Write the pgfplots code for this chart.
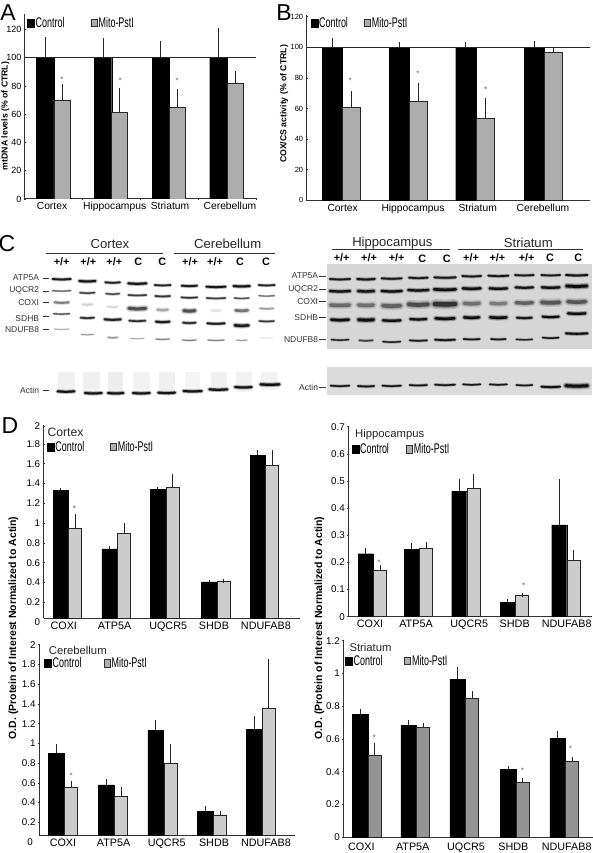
\documentclass[border=0pt]{standalone}
\usepackage{fontspec}
\setmainfont{Liberation Sans}
\usepackage{pgfplots}
\pgfplotsset{compat=1.18}
\def\xoff{0}
\def\bandparse#1/#2/#3/#4/#5\relax{%
  \pgfmathsetmacro\xa{\xoff+(#1-#3)/3}\pgfmathsetmacro\xb{\xoff+#1/3}\pgfmathsetmacro\xc{\xoff+(#1+#3)/3}%
  \pgfmathsetmacro\ya{205+#2/3}\pgfmathsetmacro\yb{205+#2/3+0.5}%
  \pgfmathsetmacro\lo{#4*2.2}\pgfmathsetmacro\lm{#4*1.5}%
  \pgfmathsetmacro\oo{#5*0.22}\pgfmathsetmacro\om{#5*0.35}\pgfmathsetmacro\oc{#5*0.9}%
  \edef\temp{\noexpand\addplot[no marks,smooth,line cap=round,black,line width=\lo pt,opacity=\oo] coordinates {(\xa,\ya)(\xb,\yb)(\xc,\ya)};
  \noexpand\addplot[no marks,smooth,line cap=round,black,line width=\lm pt,opacity=\om] coordinates {(\xa,\ya)(\xb,\yb)(\xc,\ya)};
  \noexpand\addplot[no marks,smooth,line cap=round,black,line width=#4 pt,opacity=\oc] coordinates {(\xa,\ya)(\xb,\yb)(\xc,\ya)};}%
  \temp}
\newcommand\bands[1]{\pgfplotsforeachungrouped \bb in {#1}{\expandafter\bandparse\bb\relax}}
\newcommand\rectp[5]{\addplot[fill=#5,draw=none,no marks] coordinates {(#1,#2)(#3,#2)(#3,#4)(#1,#4)} --cycle;}
\newcommand\hlin[3]{\addplot[no marks,line width=1pt,black!80] coordinates {(#1,#3)(#2,#3)};}
\newcommand\txt[4][center]{\node[anchor=#1,inner sep=0pt,font=#2] at (axis cs:#3) {#4};}
\newcommand\leg[1]{\scalebox{.64}[1]{\fontsize{14}{14}\selectfont #1}}
\pgfplotsset{
  panel/.style={scale only axis,axis x line=bottom,axis y line=left,
    axis line style={-,line width=1pt,black!80},
    tick style={black!80,line width=.6pt},major tick length=2pt,
    xtick style={draw=none},
    /pgf/number format/assume math mode=true,
    clip mode=individual,
    legend cell align=left},
  ebar/.style={/pgfplots/error bars/.cd,y dir=plus,y explicit,error mark=-,
    error bar style={line width=1pt,black!85},
    error mark options={rotate=0,black!85,mark size=1.8pt,line width=1pt},/pgfplots/.cd},
  ctl/.style={ybar,bar shift=0pt,draw=black,fill=black,bar width=#1,ebar,
    legend image code/.code={\fill[black] (0pt,-4pt) rectangle (7pt,4pt);}},
  mut/.style={ybar,bar shift=0pt,draw=black!85,line width=.9pt,bar width=#1,ebar,
    legend image code/.code={\draw[black!80,fill=black!32,line width=.8pt] (.4pt,-3.6pt) rectangle (6.6pt,3.6pt);}},
  legat/.style n args={3}{legend style={at={(axis cs:#1,#2)},anchor=west,draw=none,fill=none,inner sep=0pt,outer sep=0pt,
    legend columns=2,/tikz/every even column/.append style={column sep=#3pt},
    nodes={inner xsep=1pt,inner ysep=0pt}}},
}
\newcommand\astk[2]{\node[text=black!60,font=\fontsize{8}{8}\selectfont,inner sep=0pt] at (axis cs:#1,#2) {*};}
\begin{document}
\begin{tikzpicture}
\useasboundingbox (0,0) rectangle (593pt,853pt);
% ---------- overlay: panel letters, blots, shared labels
\begin{axis}[at={(0pt,0pt)},anchor=south west,scale only axis,width=593pt,height=853pt,
  xmin=0,xmax=593,ymin=0,ymax=853,y dir=reverse,hide axis,clip=false]
\rectp{327.3}{264.3}{591.7}{349}{black!16}
\rectp{327.3}{367.3}{591.7}{395}{black!14}
\rectp{58}{372}{75}{392}{black!6}\rectp{83}{372}{100}{392}{black!6}\rectp{108}{372}{123}{392}{black!7}\rectp{133}{372}{150}{392}{black!5}\rectp{159}{372}{175}{392}{black!6}
\rectp{185}{372}{200}{392}{black!4}\rectp{211}{372}{227}{392}{black!6}\rectp{236}{372}{252}{392}{black!5}\rectp{261}{372}{278}{390}{black!5}
\def\xoff{0}
\bands{185/222/27/1.8/.9,262/228/24/2/.95,338/232/22/1.7/.85,412/235/27/2/.95,488/240/24/1.6/.85,568/242/23/1.8/.9,648/245/29/1.8/.95,725/243/24/2/.95,800/240/24/1.6/.85}
\bands{185/257/27/1.2/.5,262/263/22/1.5/.65,338/266/20/1.5/.6,412/270/27/1.5/.7,488/273/22/1.6/.75,568/277/24/1.5/.75,648/279/28/1.5/.7,725/279/22/1.3/.6,800/272/23/1.1/.5}
\bands{185/292/21/2/.4,262/298/14/2/.12,338/305/14/2/.1,412/310/25/3/.6,488/314/15/2.4/.25,568/317/16/3/.6,648/316/14/2/.08,725/316/18/2.6/.45,800/310/20/1.5/.3}
\bands{185/326/24/1.3/.55,262/338/20/1.7/.75,338/343/24/2/.85,412/347/24/1.7/.75,488/350/20/2/.9,568/353/19/1.8/.75,648/355/26/1.8/.9,725/361/20/2.5/.9,800/348/22/1.5/.7}
\bands{185/372/22/.9/.25,262/388/18/1/.3,338/397/14/1.5/.3,412/400/20/.9/.25,488/402/20/1.1/.4,568/405/20/1.1/.4,648/405/24/1.1/.4,725/405/16/1/.3,800/398/18/.7/.1}
\bands{198/559/25/2/.95,280/564/25/2/.95,347/564/23/2/.95,424/564/25/2/.95,500/563/25/2/.95,578/558/27/2/.95,655/553/27/2/.95,730/546/25/2/.95,810/538/28/2.2/.98}
\def\xoff{290}
\bands{150/222/30/1.7/.9,228/222/26/1.9/.9,305/220/30/1.7/.9,385/218/28/1.7/.9,465/217/32/1.8/.9,545/213/28/1.7/.9,625/212/30/1.7/.9,703/210/28/1.6/.9,782/210/28/1.6/.9,860/210/32/1.8/.95}
\bands{150/258/30/2.2/.95,228/258/24/2.4/.9,305/258/30/2.2/.95,385/255/30/2.2/.95,465/253/32/2.6/.95,545/250/26/2.4/.95,625/250/26/2.2/.95,703/247/26/2/.95,782/247/26/2.2/.95,860/243/30/2.8/.98}
\bands{150/300/28/3.5/.4,228/300/22/3.5/.38,305/302/26/3.8/.45,385/298/28/4/.55,465/297/30/4.5/.7,545/295/22/3.5/.38,625/295/22/3.3/.32,703/293/24/3.3/.45,782/292/26/3.8/.5,860/290/26/3.5/.5}
\bands{150/344/26/2.4/.98,228/344/22/2.8/.98,305/346/26/2.2/.95,385/342/24/2.1/.95,465/340/28/2.5/.98,545/337/22/2.4/.98,625/337/24/2.5/.98,703/338/22/1.9/.9,782/335/24/2/.98,860/325/26/2.2/.98}
\bands{150/404/26/1.3/.8,228/406/20/1.5/.6,305/410/26/1.4/.8,385/406/26/1.5/.85,465/404/30/1.7/.9,545/402/24/1.5/.9,625/402/22/1.5/.9,703/403/24/1.3/.8,782/398/24/1.4/.9,860/385/32/1.9/.98}
\bands{150/542/28/1.5/.9,228/543/24/1.6/.9,305/542/28/1.5/.9,385/540/26/1.5/.9,465/539/30/1.5/.9,545/538/26/1.4/.9,625/538/26/1.4/.9,703/540/24/1.4/.9,782/545/28/1.8/.95,860/542/32/3/.95}
% letters
\def\bigf{\fontsize{23}{23}\selectfont}
\txt{\bigf}{8,13}{A}\txt{\bigf}{284,13}{B}\txt{\bigf}{7,244}{C}\txt{\bigf}{10,426}{D}
% blot headings
\def\hd{\fontsize{13.1}{14}\selectfont\color{black!85}}
\txt{\hd}{110,244.3}{Cortex}\txt{\hd}{227.7,244.3}{Cerebellum}
\txt{\hd}{392.3,242.7}{Hippocampus}\txt{\hd}{528.3,242.7}{Striatum}
\hlin{45.7}{163.3}{253.3}\hlin{174.3}{275}{253.3}\hlin{331.7}{450}{249.3}\hlin{458.3}{582.7}{249.3}
\def\lnf{\fontsize{10.8}{11}\selectfont\bfseries}
\txt{\lnf}{61.7,261.7}{+/+}\txt{\lnf}{88.3,261.7}{+/+}\txt{\lnf}{114.3,261.7}{+/+}\txt{\lnf}{138.3,262}{C}\txt{\lnf}{162.3,262}{C}
\txt{\lnf}{190,261.7}{+/+}\txt{\lnf}{215,261.7}{+/+}\txt{\lnf}{240,262}{C}\txt{\lnf}{266,262}{C}
\txt{\lnf}{341.7,257.7}{+/+}\txt{\lnf}{369,257.7}{+/+}\txt{\lnf}{396.7,257.7}{+/+}\txt{\lnf}{422.3,259}{C}\txt{\lnf}{446.7,259}{C}
\txt{\lnf}{471,257.7}{+/+}\txt{\lnf}{497.3,257.7}{+/+}\txt{\lnf}{526.7,257.7}{+/+}\txt{\lnf}{550,258}{C}\txt{\lnf}{578.3,258}{C}
\def\rl{\fontsize{8.5}{9}\selectfont\color{black!80}}
\txt[east]{\rl}{39.3,277.3}{ATP5A}\txt[east]{\rl}{39.3,290.7}{UQCR2}\txt[east]{\rl}{39.3,302.7}{COXI}\txt[east]{\rl}{39.3,318.3}{SDHB}\txt[east]{\rl}{39.3,330}{NDUFB8}\txt[east]{\rl}{39.3,390}{Actin}
\hlin{43.3}{49}{278}\hlin{43.3}{49}{291}\hlin{43.3}{49}{302.3}\hlin{43.3}{49}{316.3}\hlin{43.3}{49}{329}\hlin{43.3}{49}{390.7}
\txt[east]{\rl}{318.3,275.7}{ATP5A}\txt[east]{\rl}{318.3,289}{UQCR2}\txt[east]{\rl}{318.3,301.7}{COXI}\txt[east]{\rl}{318.3,317.7}{SDHB}\txt[east]{\rl}{318.3,339.7}{NDUFB8}\txt[east]{\rl}{318.3,387.3}{Actin}
\hlin{319.3}{325.7}{276}\hlin{319.3}{325.7}{289}\hlin{319.3}{325.7}{301.7}\hlin{319.3}{325.7}{317.7}\hlin{319.3}{325.7}{339.7}\hlin{319.3}{325.7}{387.3}
% y labels
\node[rotate=90,inner sep=0pt,font=\fontsize{8.7}{9}\selectfont\bfseries] at (axis cs:5.3,116) {mtDNA levels (\% of CTRL)};
\node[rotate=90,inner sep=0pt,font=\fontsize{8.7}{9}\selectfont\bfseries] at (axis cs:284,104) {COX/CS activity (\% of CTRL)};
\node[rotate=90,inner sep=0pt,font=\fontsize{10.5}{11}\selectfont\bfseries] at (axis cs:13.3,628) {O.D. (Protein of Interest Normalized to Actin)};
\node[rotate=90,inner sep=0pt,font=\fontsize{10.5}{11}\selectfont\bfseries] at (axis cs:319.3,628) {O.D. (Protein of Interest Normalized to Actin)};
% panel titles
\def\ptf{\fontsize{11.3}{12}\selectfont\color{black!85}}
\txt[west]{\fontsize{12.2}{13}\selectfont\color{black!85}}{47.3,432.7}{Cortex}
\txt[west]{\ptf}{355,435}{Hippocampus}\txt[west]{\ptf}{48.7,650.3}{Cerebellum}\txt[west]{\ptf}{349.3,647.7}{Striatum}
\end{axis}
% ---------- A
\begin{axis}[panel,at={(25pt,654pt)},anchor=south west,width=231pt,height=185pt,
  xmin=25,xmax=256,ymin=0,ymax=130.9,ytick={0,20,...,120},
  xtick={52,114.7,170,230},xticklabels={Cortex,Hippocampus,Striatum,Cerebellum},
  extra x ticks={25,82.3,140,198,256},extra x tick labels={},extra x tick style={xtick style={draw=black!80}},
  x tick label style={font=\fontsize{10.3}{11}\selectfont,yshift=1pt},
  y tick label style={font=\fontsize{9}{10}\selectfont,xshift=1pt},
  legat={27.3}{124.5}{25}]
\addplot[ctl=17.3pt] coordinates {(45.35,100) +- (0,13.2) (103.05,100) +- (0,12.5) (160.65,100) +- (0,10.4) (218.35,100) +- (0,19.6)};
\addlegendentry{\leg{Control}}
\addplot[mut=16pt,fill=black!32] coordinates {(62,70) +- (0,10.4) (119.7,61.1) +- (0,16.5) (177.3,64.6) +- (0,12.1) (235,81.6) +- (0,7.4)};
\addlegendentry{\leg{Mito-PstI}}
\addplot[forget plot,sharp plot,no marks,line width=1pt,black!85] coordinates {(25,100)(256,100)};
\astk{62}{84.5}\astk{120.3}{84}\astk{177.3}{84}
\end{axis}
% ---------- B
\begin{axis}[panel,at={(306.7pt,652.7pt)},anchor=south west,width=283.3pt,height=185.3pt,
  xmin=306.7,xmax=590,ymin=0,ymax=121.1,ytick={0,20,...,120},
  xtick={342.7,413,477.7,543},xticklabels={Cortex,Hippocampus,Striatum,Cerebellum},
  x tick label style={font=\fontsize{10.3}{11}\selectfont,yshift=1pt},
  y tick label style={font=\fontsize{7.5}{8}\selectfont,xshift=1pt},
  legat={310.7}{116}{15}]
\addplot[ctl=20.3pt] coordinates {(332.15,100) +- (0,4.8) (399.15,100) +- (0,2.2) (465.85,100) +- (0,2.2) (534.15,100) +- (0,2.6)};
\addlegendentry{\leg{Control}}
\addplot[mut=18pt,fill=black!32] coordinates {(351.5,60.8) +- (0,9.2) (418.5,64.5) +- (0,11.1) (485.2,53.2) +- (0,12.2) (553.5,96.7) +- (0,2.2)};
\addlegendentry{\leg{Mito-PstI}}
\addplot[forget plot,sharp plot,no marks,line width=1pt,black!85] coordinates {(306.7,100)(590,100)};
\astk{350.3}{78}\astk{418}{83}\astk{485.7}{72}
\end{axis}
% ---------- Cortex
\begin{axis}[panel,at={(43.7pt,234.7pt)},anchor=south west,width=256.3pt,height=193.3pt,
  xmin=43.7,xmax=299,ymin=.04,ymax=1.99,ytick={.2,.4,...,1.8},extra y ticks={1.98},extra y tick labels={2},
  yticklabels={0.2,0.4,0.6,0.8,1,1.2,1.4,1.6,1.8},
  xtick={63.7,114.3,167.7,213.3,265},xticklabels={COXI,ATP5A,UQCR5,SHDB,NDUFAB8},
  x tick label style={font=\fontsize{10.8}{11}\selectfont,yshift=1pt},
  y tick label style={font=\fontsize{9.8}{10}\selectfont,xshift=1pt},
  legat={47}{1.765}{24.5}]
\addplot[ctl=15pt] coordinates {(60.8,1.328) +- (0,.012) (109.2,.74) +- (0,.013) (157.5,1.338) +- (0,.01) (208.5,.407) +- (0,.006) (256.8,1.687) +- (0,.031)};
\addlegendentry{\leg{Control}}
\addplot[mut=13pt,fill=black!20] coordinates {(75.3,.951) +- (0,.121) (123.7,.897) +- (0,.091) (172,1.355) +- (0,.127) (223,.41) +- (0,.007) (271.3,1.583) +- (0,.135)};
\addlegendentry{\leg{Mito-PstI}}
\astk{74.3}{1.15}
\node[anchor=east,inner sep=0pt,font=\fontsize{9.8}{10}\selectfont,text=black] at (rel axis cs:0,0) [xshift=-3.5pt,yshift=-4pt] {0};
\end{axis}
% ---------- Hippocampus
\begin{axis}[panel,at={(348.3pt,236.3pt)},anchor=south west,width=243.7pt,height=190pt,
  xmin=348.3,xmax=592,ymin=0,ymax=.7,ytick={0,.1,...,.7},
  yticklabels={0,0.1,0.2,0.3,0.4,0.5,0.6,0.7},
  xtick={370,416,469.3,514.7,566.7},xticklabels={COXI,ATP5A,UQCR5,SHDB,NDUFAB8},
  x tick label style={font=\fontsize{10.8}{11}\selectfont,yshift=1pt},
  y tick label style={font=\fontsize{9.8}{10}\selectfont,xshift=1pt},
  legat={351.7}{.616}{16}]
\addplot[ctl=15pt] coordinates {(365.5,.232) +- (0,.014) (411.8,.248) +- (0,.017) (459.2,.462) +- (0,.04) (507.5,.054) +- (0,.005) (559.2,.338) +- (0,.163)};
\addlegendentry{\leg{Control}}
\addplot[mut=13pt,fill=black!20] coordinates {(380,.17) +- (0,.012) (426.3,.253) +- (0,.015) (473.7,.473) +- (0,.045) (522,.077) +- (0,.004) (573.7,.206) +- (0,.034)};
\addlegendentry{\leg{Mito-PstI}}
\astk{379}{.2}\astk{523.7}{.115}
\end{axis}
% ---------- Cerebellum
\begin{axis}[panel,at={(39pt,17.3pt)},anchor=south west,width=256pt,height=192pt,
  xmin=39,xmax=295,ymin=.064,ymax=2.01,ytick={.2,.4,...,1.8},extra y ticks={2},extra y tick labels={2},
  yticklabels={0.2,0.4,0.6,0.8,1,1.2,1.4,1.6,1.8},
  xtick={63,113.7,166.7,214,266},xticklabels={COXI,ATP5A,UQCR5,SHDB,NDUFAB8},
  x tick label style={font=\fontsize{10.8}{11}\selectfont,yshift=1pt},
  y tick label style={font=\fontsize{9.8}{10}\selectfont,xshift=1pt},
  legat={44.3}{1.81}{21}]
\addplot[ctl=15.5pt] coordinates {(56.3,.899) +- (0,.081) (106.3,.579) +- (0,.041) (155.6,1.131) +- (0,.091) (205.3,.31) +- (0,.037) (254,1.141) +- (0,.118)};
\addlegendentry{\leg{Control}}
\addplot[mut=13pt,fill=black!20] coordinates {(71.2,.556) +- (0,.044) (121.2,.458) +- (0,.077) (170.5,.795) +- (0,.181) (220.2,.273) +- (0,.027) (268.9,1.357) +- (0,.475)};
\addlegendentry{\leg{Mito-PstI}}
\astk{71.3}{.67}
\node[anchor=east,inner sep=0pt,font=\fontsize{9.8}{10}\selectfont,text=black] at (rel axis cs:0,0) [xshift=-6pt,yshift=-6pt] {0};
\end{axis}
% ---------- Striatum
\begin{axis}[panel,at={(343.3pt,15.7pt)},anchor=south west,width=249.7pt,height=196.6pt,
  xmin=343.3,xmax=593,ymin=0,ymax=1.2,ytick={0,.2,...,1.2},
  yticklabels={0,0.2,0.4,0.6,0.8,1,1.2},
  xtick={361.3,412.7,466,513.3,566.7},xticklabels={COXI,ATP5A,UQCR5,SHDB,NDUFAB8},
  x tick label style={font=\fontsize{10.8}{11}\selectfont,yshift=-1pt},
  y tick label style={font=\fontsize{9.8}{10}\selectfont,xshift=1pt},
  legat={345.3}{1.075}{20.5}]
\addplot[ctl=15.5pt] coordinates {(360.3,.75) +- (0,.025) (408.6,.683) +- (0,.019) (457.6,.966) +- (0,.063) (508.3,.413) +- (0,.01) (557.6,.604) +- (0,.036)};
\addlegendentry{\leg{Control}}
\addplot[mut=13pt,fill=black!42] coordinates {(374.8,.498) +- (0,.067) (423.1,.669) +- (0,.018) (472.1,.848) +- (0,.035) (522.8,.336) +- (0,.018) (572.1,.462) +- (0,.02)};
\addlegendentry{\leg{Mito-PstI}}
\astk{374.3}{.61}\astk{522.3}{.405}\astk{570.7}{.54}
\end{axis}
\end{tikzpicture}
\end{document}
